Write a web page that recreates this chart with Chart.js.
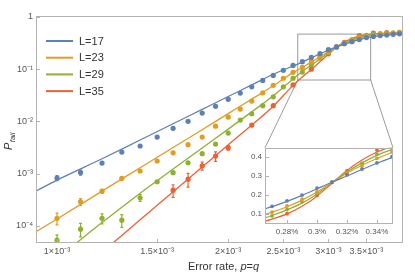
<!DOCTYPE html>
<html>
<head>
<meta charset="utf-8">
<script src="https://cdn.jsdelivr.net/npm/chart.js@4.4.1/dist/chart.umd.min.js"></script>
<style>
  body { margin: 0; background: #fff; }
  #wrap { position: relative; width: 415px; height: 275px; }
  #inset { position: absolute; left: 235px; top: 140px; }
</style>
</head>
<body>
<div id="wrap">
  <canvas id="main" width="415" height="275"></canvas>
  <canvas id="inset" width="165" height="100"></canvas>
</div>
<script>
// error rate grid (p = q) used by L=17, 23, 29
const pFull = [0.0010, 0.0011, 0.0012, 0.0013, 0.0014, 0.0015, 0.0016, 0.0017, 0.0018, 0.0019,
               0.0020, 0.0021, 0.0022, 0.0023, 0.0024, 0.0025, 0.0026, 0.0027, 0.0028, 0.0029,
               0.0030, 0.0031, 0.0032, 0.0033, 0.0034, 0.0035, 0.0036, 0.0037, 0.0038, 0.0039, 0.0040];
// L=35 was sampled on a coarser grid
const pL35 = [0.0016, 0.0017, 0.0018, 0.0019, 0.0020, 0.0022, 0.0024, 0.0026, 0.0028, 0.0030,
              0.0032, 0.0034, 0.0036, 0.0038, 0.0040];

// measured P_fail
const failL17 = [8.2e-4, 1.05e-3, 1.59e-3, 2.58e-3, 3.37e-3, 5.0e-3, 7.35e-3, 1.0e-2, 1.44e-2, 1.94e-2,
                 2.64e-2, 3.48e-2, 4.6e-2, 6.1e-2, 7.6e-2, 9.5e-2, 0.118, 0.139, 0.168, 0.199,
                 0.236, 0.267, 0.307, 0.337, 0.370, 0.403, 0.425, 0.440, 0.452, 0.465, 0.475];
const failL23 = [1.39e-4, 2.88e-4, 4.6e-4, 8.1e-4, 1.12e-3, 1.74e-3, 2.5e-3, 3.57e-3, 5.0e-3, 8.1e-3,
                 1.21e-2, 1.72e-2, 2.45e-2, 3.53e-2, 4.9e-2, 6.7e-2, 8.7e-2, 0.108, 0.141, 0.177,
                 0.216, 0.267, 0.315, 0.353, 0.394, 0.428, 0.450, 0.465, 0.478, 0.488, 0.495];
const failL29 = [5.3e-5, 8.6e-5, 1.39e-4, 1.28e-4, 3.44e-4, 6.97e-4, 1.04e-3, 1.61e-3, 2.4e-3, 3.67e-3,
                 5.97e-3, 1.06e-2, 1.4e-2, 2.0e-2, 2.96e-2, 4.6e-2, 6.7e-2, 0.088, 0.122, 0.163,
                 0.208, 0.267, 0.318, 0.368, 0.416, 0.447, 0.468, 0.480, 0.490, 0.497, 0.500];
const failL35 = [4.8e-4, 7.8e-4, 1.41e-3, 2.16e-3, 3.12e-3, 8.5e-3, 2.0e-2, 5.0e-2, 0.100, 0.197,
                 0.327, 0.438, 0.490, 0.505, 0.510];

// error bars (half widths) for the first few points of each series
const errL17 = [9e-5, 1.2e-4];
const errL23 = [3.5e-5, 4.3e-5, 4e-5, 6e-5];
const errL29 = [1.4e-5, 2.5e-5, 3e-5, 3.5e-5, 5e-5];
const errL35 = [1.3e-4, 2.3e-4, 2.5e-4, 4.5e-4, 3e-4];

const fitP = [0.00090, 0.0010, 0.0012, 0.0014, 0.0016, 0.0018, 0.0020, 0.0022, 0.0024, 0.0026, 0.0027,
              0.0028, 0.0029, 0.0030, 0.0031, 0.0032, 0.0033, 0.0034, 0.0035, 0.0036, 0.0038, 0.0041];
const fitL17 = [4.1e-4, 7.5e-4, 1.92e-3, 4.4e-3, 9.0e-3, 1.70e-2, 3.0e-2, 5.0e-2, 8.0e-2, 0.115, 0.137,
                0.165, 0.197, 0.232, 0.267, 0.300, 0.335, 0.368, 0.398, 0.420, 0.450, 0.478];
const fitL23 = [6.7e-5, 1.35e-4, 4.6e-4, 1.29e-3, 3.15e-3, 6.9e-3, 1.41e-2, 2.67e-2, 4.8e-2, 8.6e-2, 0.108,
                0.137, 0.172, 0.215, 0.265, 0.315, 0.357, 0.393, 0.425, 0.448, 0.475, 0.492];
const fitL29 = [1.2e-5, 2.45e-5, 1.15e-4, 4.2e-4, 1.22e-3, 3.1e-3, 7.1e-3, 1.52e-2, 3.1e-2, 6.5e-2, 0.090,
                0.120, 0.156, 0.205, 0.265, 0.322, 0.370, 0.410, 0.440, 0.460, 0.482, 0.495];
const fitL35 = [2.2e-6, 5.8e-6, 3.1e-5, 1.3e-4, 4.5e-4, 1.33e-3, 3.55e-3, 8.5e-3, 1.95e-2, 4.9e-2, 0.071,
                0.099, 0.139, 0.193, 0.262, 0.330, 0.385, 0.428, 0.455, 0.475, 0.492, 0.500];

const labels = ['L=17', 'L=23', 'L=29', 'L=35'];

// ticks
const xTicks = [0.001, 0.0015, 0.002, 0.0025, 0.003, 0.0035];
const xTickLabels = ['1×10⁻³', '1.5×10⁻³', '2×10⁻³', '2.5×10⁻³', '3×10⁻³', '3.5×10⁻³'];
const yTicks = [1e-4, 1e-3, 1e-2, 1e-1, 1];
const yTickLabels = ['10⁻⁴', '10⁻³', '10⁻²', '10⁻¹', '1'];
const insetXTicks = [0.0028, 0.0030, 0.0032, 0.0034];
const insetXTickLabels = ['0.28%', '0.3%', '0.32%', '0.34%'];
const insetYTicks = [0.1, 0.2, 0.3, 0.4];
const insetYTickLabels = ['0.1', '0.2', '0.3', '0.4'];

// region shown in the inset (drawn as a box on the main plot)
const zoomP = [0.00265, 0.00356];
const zoomFail = [0.062, 0.47];

const colors = ['#5E81B5', '#E19C24', '#8FB032', '#EB6235'];
const FONT = "'Liberation Sans', Arial, sans-serif";
const FRAME = '#b3b3b3';

const series = [
  { p: pFull, v: failL17, fit: fitL17, err: errL17 },
  { p: pFull, v: failL23, fit: fitL23, err: errL23 },
  { p: pFull, v: failL29, fit: fitL29, err: errL29 },
  { p: pL35,  v: failL35, fit: fitL35, err: errL35 }
];

function buildSets(pointR, lineW) {
  const sets = [];
  series.forEach((s, k) => {
    sets.push({
      label: labels[k],
      data: fitP.map((x, i) => ({ x: x, y: s.fit[i] })),
      borderColor: colors[k],
      borderWidth: lineW,
      pointRadius: 0,
      cubicInterpolationMode: 'monotone',
      fill: false
    });
    sets.push({
      label: '',
      data: s.p.map((x, i) => ({ x: x, y: s.v[i] })),
      showLine: false,
      pointRadius: pointR,
      pointBackgroundColor: colors[k],
      pointBorderWidth: 0,
      errs: s.err
    });
  });
  return sets;
}

function lookup(ticks, names) {
  return function (v) {
    const i = ticks.findIndex(t => Math.abs(t - v) < t * 1e-6);
    return i >= 0 ? names[i] : '';
  };
}

// frame around the plot with small inward ticks
const framePlugin = {
  id: 'frame',
  afterDraw(chart) {
    const { ctx, chartArea: a, scales } = chart;
    ctx.save();
    ctx.strokeStyle = FRAME;
    ctx.lineWidth = 1;
    ctx.strokeRect(Math.round(a.left) + 0.5, Math.round(a.top) + 0.5,
                   Math.round(a.right - a.left) - 1, Math.round(a.bottom - a.top) - 1);
    ctx.beginPath();
    scales.x.ticks.forEach(t => {
      const x = Math.round(scales.x.getPixelForValue(t.value)) + 0.5;
      ctx.moveTo(x, a.bottom); ctx.lineTo(x, a.bottom - 4);
    });
    scales.y.ticks.forEach(t => {
      const y = Math.round(scales.y.getPixelForValue(t.value)) + 0.5;
      ctx.moveTo(a.left, y); ctx.lineTo(a.left + 4, y);
    });
    ctx.stroke();
    ctx.restore();
  }
};

const insetBg = {
  id: 'insetBg',
  beforeDraw(chart) {
    const { ctx, chartArea: a } = chart;
    ctx.save();
    ctx.fillStyle = '#fff';
    ctx.fillRect(a.left, a.top, a.right - a.left, a.bottom - a.top);
    ctx.restore();
  }
};

const errorBars = {
  id: 'errorBars',
  afterDatasetsDraw(chart) {
    const { ctx, chartArea: a } = chart;
    const ys = chart.scales.y;
    ctx.save();
    ctx.beginPath();
    ctx.rect(a.left, a.top, a.right - a.left, a.bottom - a.top);
    ctx.clip();
    chart.data.datasets.forEach((ds, i) => {
      if (!ds.errs) return;
      const meta = chart.getDatasetMeta(i);
      ctx.strokeStyle = ds.pointBackgroundColor;
      ctx.lineWidth = 1.2;
      ds.errs.forEach((e, j) => {
        const pt = meta.data[j];
        const y = ds.data[j].y;
        const top = ys.getPixelForValue(y + e);
        const bot = ys.getPixelForValue(Math.max(y - e, 1e-7));
        ctx.beginPath();
        ctx.moveTo(pt.x, top); ctx.lineTo(pt.x, bot);
        ctx.moveTo(pt.x - 1.5, top); ctx.lineTo(pt.x + 1.5, top);
        ctx.moveTo(pt.x - 1.5, bot); ctx.lineTo(pt.x + 1.5, bot);
        ctx.stroke();
      });
    });
    ctx.restore();
  }
};

let insetChart = null;

const zoomBox = {
  id: 'zoomBox',
  beforeDatasetsDraw(chart) {
    const { ctx, scales } = chart;
    const x1 = scales.x.getPixelForValue(zoomP[0]);
    const x2 = scales.x.getPixelForValue(zoomP[1]);
    const y1 = scales.y.getPixelForValue(zoomFail[1]);
    const y2 = scales.y.getPixelForValue(zoomFail[0]);
    ctx.save();
    ctx.strokeStyle = '#9a9a9a';
    ctx.lineWidth = 1;
    ctx.strokeRect(x1, y1, x2 - x1, y2 - y1);
    if (insetChart) {
      const cv = insetChart.canvas;
      const ia = insetChart.chartArea;
      ctx.beginPath();
      ctx.moveTo(x1, y2); ctx.lineTo(cv.offsetLeft + ia.left, cv.offsetTop + ia.top);
      ctx.moveTo(x2, y2); ctx.lineTo(cv.offsetLeft + ia.right, cv.offsetTop + ia.top);
      ctx.stroke();
    }
    ctx.restore();
  }
};

// legend in the upper left corner + axis titles
const decorations = {
  id: 'decorations',
  afterDraw(chart) {
    const { ctx, chartArea: a } = chart;
    ctx.save();
    ctx.font = '11px ' + FONT;
    ctx.textBaseline = 'middle';
    chart.data.datasets.filter(d => d.label).forEach((d, i) => {
      const y = a.top + 25 + i * 16.7;
      ctx.strokeStyle = d.borderColor;
      ctx.lineWidth = 2;
      ctx.beginPath();
      ctx.moveTo(a.left + 10, y); ctx.lineTo(a.left + 37, y);
      ctx.stroke();
      ctx.fillStyle = '#333';
      ctx.fillText(d.label, a.left + 43, y + 0.5);
    });

    // x title: Error rate, p=q
    const parts = [['Error rate, ', ''], ['p', 'italic '], ['=', ''], ['q', 'italic ']];
    let w = 0;
    parts.forEach(pt => { ctx.font = pt[1] + '11px ' + FONT; w += ctx.measureText(pt[0]).width; });
    let x = (a.left + a.right) / 2 + 4 - w / 2;
    ctx.fillStyle = '#333';
    ctx.textBaseline = 'alphabetic';
    parts.forEach(pt => {
      ctx.font = pt[1] + '11px ' + FONT;
      ctx.fillText(pt[0], x, 270);
      x += ctx.measureText(pt[0]).width;
    });

    // y title: P_fail
    ctx.translate(12, 150);
    ctx.rotate(-Math.PI / 2);
    ctx.font = 'italic 11px ' + FONT;
    ctx.fillText('P', 0, 0);
    const pw = ctx.measureText('P').width;
    ctx.font = 'italic 7.5px ' + FONT;
    ctx.fillText('fail', pw + 0.5, 3);
    ctx.restore();
  }
};

const tickFont = { family: FONT, size: 9 };

insetChart = new Chart(document.getElementById('inset'), {
  type: 'line',
  data: { datasets: buildSets(1.9, 1.2) },
  options: {
    responsive: false,
    animation: false,
    layout: { padding: { top: 5, right: 7, left: 0, bottom: 0 } },
    plugins: { legend: { display: false }, tooltip: { enabled: false } },
    scales: {
      x: {
        type: 'linear', min: 0.002653, max: 0.003507,
        grid: { display: false, drawTicks: false }, border: { display: false },
        afterBuildTicks: s => { s.ticks = insetXTicks.map(v => ({ value: v })); },
        afterFit: s => { s.height = 16; },
        ticks: { autoSkip: false, maxRotation: 0, padding: 3, color: '#555',
                 font: { family: FONT, size: 8 }, callback: lookup(insetXTicks, insetXTickLabels) }
      },
      y: {
        type: 'linear', min: 0.045, max: 0.45,
        grid: { display: false, drawTicks: false }, border: { display: false },
        afterBuildTicks: s => { s.ticks = insetYTicks.map(v => ({ value: v })); },
        afterFit: s => { s.width = 30; },
        ticks: { autoSkip: false, padding: 3, color: '#555',
                 font: { family: FONT, size: 8 }, callback: lookup(insetYTicks, insetYTickLabels) }
      }
    }
  },
  plugins: [insetBg, framePlugin]
});

new Chart(document.getElementById('main'), {
  type: 'line',
  data: { datasets: buildSets(2.6, 1.3) },
  options: {
    responsive: false,
    animation: false,
    layout: { padding: { top: 16, right: 12, left: 0, bottom: 0 } },
    plugins: { legend: { display: false }, tooltip: { enabled: false } },
    scales: {
      x: {
        type: 'logarithmic', min: 0.0009185, max: 0.004058,
        grid: { display: false, drawTicks: false }, border: { display: false },
        afterBuildTicks: s => { s.ticks = xTicks.map(v => ({ value: v })); },
        afterFit: s => { s.height = 32; },
        ticks: { autoSkip: false, maxRotation: 0, padding: 3, color: '#555',
                 font: tickFont, callback: lookup(xTicks, xTickLabels) }
      },
      y: {
        type: 'logarithmic', min: 4.67e-5, max: 1.045,
        grid: { display: false, drawTicks: false }, border: { display: false },
        afterBuildTicks: s => { s.ticks = yTicks.map(v => ({ value: v })); },
        afterFit: s => { s.width = 36; },
        ticks: { autoSkip: false, padding: 3, color: '#555',
                 font: tickFont, callback: lookup(yTicks, yTickLabels) }
      }
    }
  },
  plugins: [zoomBox, errorBars, framePlugin, decorations]
});
</script>
</body>
</html>
